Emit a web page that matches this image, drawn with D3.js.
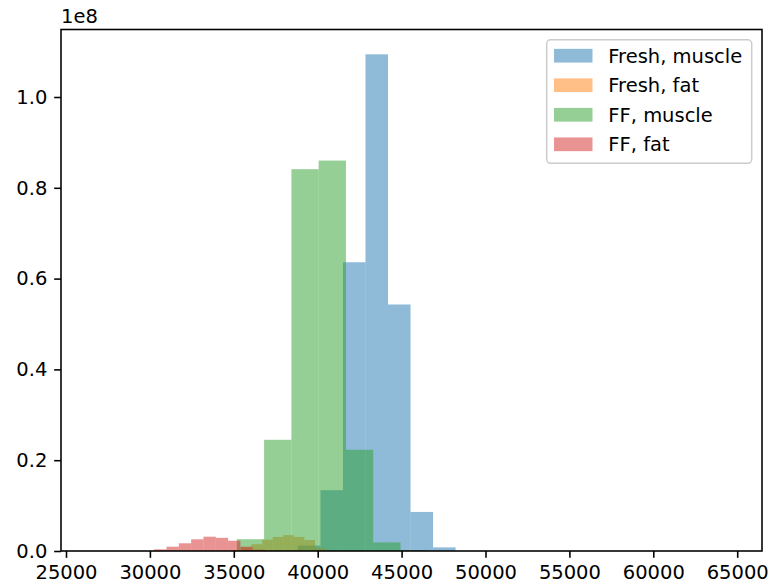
<!DOCTYPE html>
<html>
<head>
<meta charset="utf-8">
<script src="https://cdn.jsdelivr.net/npm/d3@7"></script>
<style>
  html, body { margin: 0; padding: 0; background: #fff; }
  svg { display: block; font-family: "DejaVu Sans", sans-serif; }
</style>
</head>
<body>
<svg id="chart" width="768" height="588"></svg>
<script>
// ---- data (counts in raw units; axis shows them ×1e8) ----
const seriesNames = ["Fresh, muscle", "Fresh, fat", "FF, muscle", "FF, fat"];
const seriesColors = ["#1f77b4", "#ff7f0e", "#2ca02c", "#d62728"];

const freshMuscleEdges  = [37480, 38822, 40164, 41506, 42848, 44190, 45532, 46874, 48216];
const freshMuscleCounts = [0.002e8, 0.012e8, 0.134e8, 0.636e8, 1.094e8, 0.543e8, 0.086e8, 0.008e8];

const freshFatEdges  = [34800, 35430, 36060, 36690, 37320, 37950, 38580, 39210, 39840, 40470, 41100];
const freshFatCounts = [0.002e8, 0.008e8, 0.015e8, 0.025e8, 0.031e8, 0.035e8, 0.031e8, 0.024e8, 0.006e8, 0.002e8];

const ffMuscleEdges  = [35180, 36806, 38432, 40058, 41684, 43310, 44936, 46562];
const ffMuscleCounts = [0.026e8, 0.245e8, 0.841e8, 0.860e8, 0.223e8, 0.019e8, 0.002e8];

const ffFatEdges  = [30256, 30990, 31724, 32458, 33192, 33926, 34660, 35394, 36128, 36862, 37596];
const ffFatCounts = [0.0037e8, 0.0095e8, 0.017e8, 0.0258e8, 0.0315e8, 0.029e8, 0.0227e8, 0.0095e8, 0.003e8, 0.0008e8];

const xDomain = [24702, 66478];
const yDomain = [0, 1.1487e8];
const xTicks = [25000, 30000, 35000, 40000, 45000, 50000, 55000, 60000, 65000];
const yTicks = [0, 0.2e8, 0.4e8, 0.6e8, 0.8e8, 1.0e8];
const yOffsetLabel = "1e8";

// ---- layout ----
const L = 61, R = 762, T = 29.5, B = 551;
const FS = 19.5;
const tickLen = 6.85, tickW = 1.57, spineW = 1.57;

const svg = d3.select("#chart");
const x = d3.scaleLinear().domain(xDomain).range([L, R]);
const y = d3.scaleLinear().domain(yDomain).range([B, T]);

const series = [
  {edges: freshMuscleEdges, counts: freshMuscleCounts},
  {edges: freshFatEdges, counts: freshFatCounts},
  {edges: ffMuscleEdges, counts: ffMuscleCounts},
  {edges: ffFatEdges, counts: ffFatCounts}
];

const plot = svg.append("g");
series.forEach((s, i) => {
  const bins = s.counts.map((c, j) => ({x0: s.edges[j], x1: s.edges[j + 1], c}));
  plot.append("g").selectAll("rect").data(bins).join("rect")
    .attr("x", d => x(d.x0))
    .attr("width", d => x(d.x1) - x(d.x0))
    .attr("y", d => y(d.c))
    .attr("height", d => y(0) - y(d.c))
    .attr("fill", seriesColors[i])
    .attr("fill-opacity", 0.5);
});

// ---- axes ----
const xAxis = svg.append("g").attr("transform", `translate(0,${B})`)
  .call(d3.axisBottom(x).tickValues(xTicks).tickFormat(d3.format("d"))
    .tickSize(tickLen).tickSizeOuter(0).tickPadding(6.85));
const yAxis = svg.append("g").attr("transform", `translate(${L},0)`)
  .call(d3.axisLeft(y).tickValues(yTicks).tickFormat(d => (d / 1e8).toFixed(1))
    .tickSize(tickLen).tickSizeOuter(0).tickPadding(6.85));
[xAxis, yAxis].forEach(a => {
  a.select(".domain").remove();
  a.selectAll(".tick line").attr("stroke", "#000").attr("stroke-width", tickW);
  a.selectAll(".tick text").attr("fill", "#000")
    .style("font-size", FS + "px").style("font-family", "DejaVu Sans");
});

svg.append("text").attr("x", L).attr("y", T - 6.5)
  .attr("fill", "#000").style("font-size", FS + "px").text(yOffsetLabel);

// spines
svg.append("rect").attr("x", L).attr("y", T).attr("width", R - L).attr("height", B - T)
  .attr("fill", "none").attr("stroke", "#000").attr("stroke-width", spineW);

// ---- legend ----
const lg = svg.append("g");
lg.append("rect").attr("x", 546.7).attr("y", 39.8).attr("width", 205).attr("height", 123.5)
  .attr("rx", 4).attr("fill", "#fff").attr("fill-opacity", 0.8)
  .attr("stroke", "#cccccc").attr("stroke-width", 1.5);
const rowY = d3.scaleLinear().domain([0, 3]).range([55.7, 144.3]);
seriesNames.forEach((name, i) => {
  lg.append("rect").attr("x", 554).attr("y", rowY(i) - 6.85)
    .attr("width", 38.5).attr("height", 13.7)
    .attr("fill", seriesColors[i]).attr("fill-opacity", 0.5);
  lg.append("text").attr("x", 608.3).attr("y", rowY(i)).attr("dy", "0.36em")
    .attr("fill", "#000").style("font-size", FS + "px").text(name);
});
</script>
</body>
</html>
